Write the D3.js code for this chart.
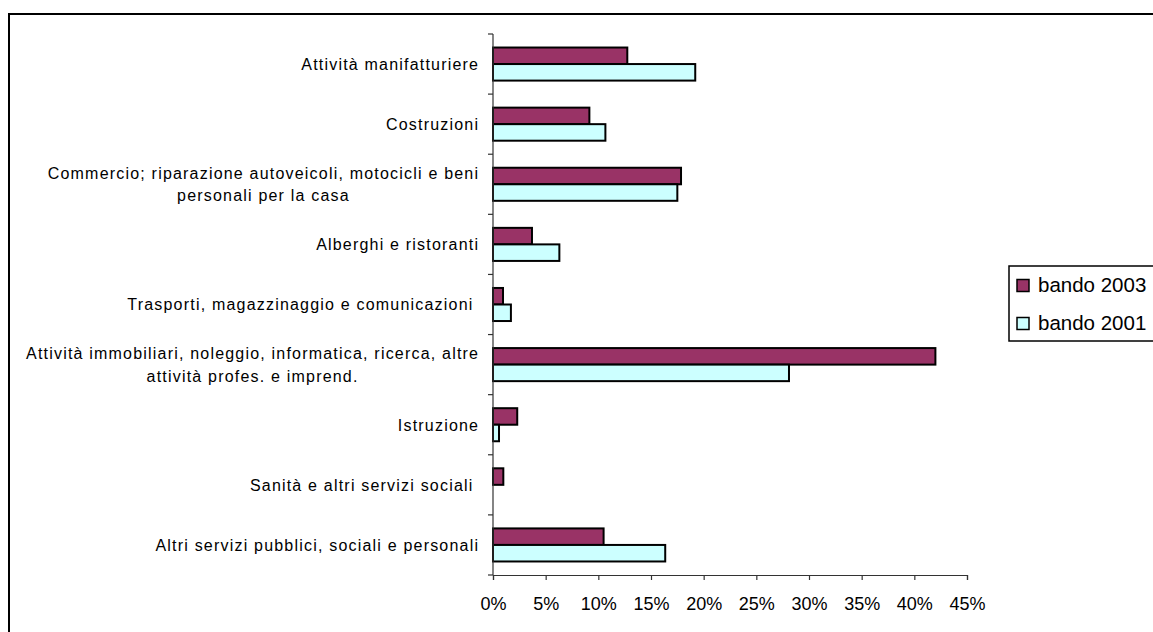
<!DOCTYPE html>
<html>
<head>
<meta charset="utf-8">
<script src="https://cdn.jsdelivr.net/npm/d3@7"></script>
<style>
  html, body { margin: 0; padding: 0; background: #fff; }
  svg text { font-family: "Liberation Sans", Arial, sans-serif; fill: #000; white-space: pre; }
</style>
</head>
<body>
<svg id="chart" width="1153" height="632"></svg>
<script>
// Sector categories (each entry is the list of label lines)
const categories = [
  ["Attività manifatturiere"],
  ["Costruzioni"],
  ["Commercio; riparazione autoveicoli, motocicli e beni", "personali per la casa"],
  ["Alberghi e ristoranti"],
  ["Trasporti, magazzinaggio e comunicazioni "],
  ["Attività immobiliari, noleggio, informatica, ricerca, altre", "attività profes. e imprend."],
  ["Istruzione"],
  ["Sanità e altri servizi sociali "],
  ["Altri servizi pubblici, sociali e personali"]
];
const seriesNames = ["bando 2003", "bando 2001"];
const values2003 = [12.75, 9.15, 17.85, 3.7, 0.95, 42.0, 2.3, 0.98, 10.5];
const values2001 = [19.2, 10.67, 17.5, 6.3, 1.7, 28.1, 0.57, 0, 16.35];
const xTicks = [0, 5, 10, 15, 20, 25, 30, 35, 40, 45];
const seriesColors = ["#993366", "#CCFFFF"];

const svg = d3.select("#chart");

// outer chart frame
svg.append("rect")
  .attr("x", 9).attr("y", 14)
  .attr("width", 1200).attr("height", 700)
  .attr("fill", "#fff").attr("stroke", "#000").attr("stroke-width", 2);

const plot = { left: 493, right: 967, top: 34, bottom: 575 };

const keys = categories.map((c, i) => i);
const x = d3.scaleLinear().domain([0, 45]).range([plot.left, plot.right]);
const y0 = d3.scaleBand().domain(keys).range([plot.top, plot.bottom])
  .paddingInner(0.45).paddingOuter(0.225);
const y1 = d3.scaleBand().domain(seriesNames).range([0, y0.bandwidth()]);

const rows = keys.map(i => ({ i, vals: [values2003[i], values2001[i]] }));

// bars
const g = svg.append("g");
rows.forEach(r => {
  r.vals.forEach((v, s) => {
    if (v <= 0) return;
    g.append("rect")
      .attr("x", x(0))
      .attr("y", y0(r.i) + y1(seriesNames[s]))
      .attr("width", x(v) - x(0))
      .attr("height", y1.bandwidth())
      .attr("fill", seriesColors[s])
      .attr("stroke", "#000")
      .attr("stroke-width", 2);
  });
});

// horizontal value axis
const xAxis = d3.axisBottom(x).tickValues(xTicks).tickSize(5).tickPadding(17)
  .tickFormat(d => d + "%");
const xg = svg.append("g").attr("transform", `translate(0,${plot.bottom})`).call(xAxis);
xg.select(".domain").attr("stroke", "#333").attr("stroke-width", 1.2);
xg.selectAll(".tick line").attr("stroke", "#333").attr("stroke-width", 1.2);
xg.selectAll(".tick text").attr("font-size", "18px").attr("font-family", "Liberation Sans, Arial, sans-serif");

// vertical category axis: line with ticks between categories
const step = (plot.bottom - plot.top) / categories.length;
const cg = svg.append("g");
cg.append("line")
  .attr("x1", plot.left).attr("x2", plot.left)
  .attr("y1", plot.top).attr("y2", plot.bottom)
  .attr("stroke", "#333").attr("stroke-width", 1.2);
d3.range(categories.length + 1).forEach(k => {
  cg.append("line")
    .attr("x1", plot.left - 5).attr("x2", plot.left)
    .attr("y1", plot.top + k * step).attr("y2", plot.top + k * step)
    .attr("stroke", "#333").attr("stroke-width", 1.2);
});

// category labels, multi-line blocks centred on their widest line
const lineH = 22.5;
const ls = 1.2;
rows.forEach(r => {
  const lines = categories[r.i];
  const cy = y0(r.i) + y0.bandwidth() / 2;
  const t = svg.append("text")
    .attr("font-size", "16px")
    .style("letter-spacing", ls + "px")
    .attr("text-anchor", "middle");
  lines.forEach((ln, j) => {
    t.append("tspan")
      .attr("x", 0)
      .attr("y", cy + (j - (lines.length - 1) / 2) * lineH)
      .attr("dy", "0.37em")
      .text(ln);
  });
  const w = t.node().getBBox().width;
  t.selectAll("tspan").attr("x", 478 + ls - w / 2);
});

// legend
const lg = svg.append("g");
lg.append("rect")
  .attr("x", 1009).attr("y", 266).attr("width", 200).attr("height", 75)
  .attr("fill", "#fff").attr("stroke", "#000").attr("stroke-width", 1.5);
seriesNames.forEach((name, s) => {
  const cy = 285.5 + s * 38;
  lg.append("rect")
    .attr("x", 1017).attr("y", cy - 6).attr("width", 12).attr("height", 12)
    .attr("fill", seriesColors[s]).attr("stroke", "#000").attr("stroke-width", 1.5);
  lg.append("text")
    .attr("x", 1038).attr("y", cy).attr("dy", "0.3em")
    .attr("font-size", "20.5px")
    .text(name);
});
</script>
</body>
</html>
